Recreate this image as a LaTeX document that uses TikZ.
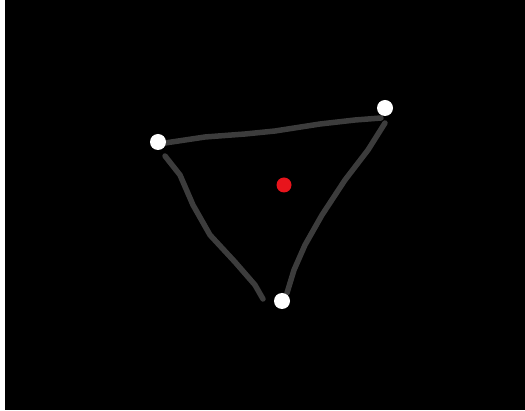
\documentclass[tikz,border=0pt]{standalone}
\usepackage{tikz}
\usetikzlibrary{positioning}
\definecolor{sketchgray}{HTML}{3C3C3C}
\definecolor{dotred}{HTML}{E8141C}
\tikzset{
  vertexdot/.style={circle, fill=white, inner sep=0pt, minimum size=16pt},
  centredot/.style={circle, fill=dotred, inner sep=0pt, minimum size=15pt},
  sketchline/.style={draw=sketchgray, line width=5.5pt, line cap=round, line join=round}
}
\begin{document}
\begin{tikzpicture}[x=1pt, y=-1pt]
    % Canvas
    \useasboundingbox (0,0) rectangle (525,411);
    \fill[white] (0,0) rectangle (525,411);
    \fill[black] (5,0) rectangle (525,410);
    % Hand-drawn edges
    \draw[sketchline] (165,143) -- (205,137) -- (245,134) -- (275,131) -- (320,124) -- (355,120) -- (381,118);
    \draw[sketchline] (165,156) -- (180,175) -- (193,205) -- (210,235) -- (235,262) -- (255,285) -- (263,299);
    \draw[sketchline] (385,123) -- (368,150) -- (345,180) -- (322,215) -- (305,245) -- (294,270) -- (287,293);
    % Vertices
    \node[vertexdot] (left) at (158,142) {};
    \node[vertexdot] (right) at (385,108) {};
    \node[vertexdot] (bottom) at (282,301) {};
    % Centre point
    \node[centredot] (centre) at (284,185) {};
\end{tikzpicture}
\end{document}
